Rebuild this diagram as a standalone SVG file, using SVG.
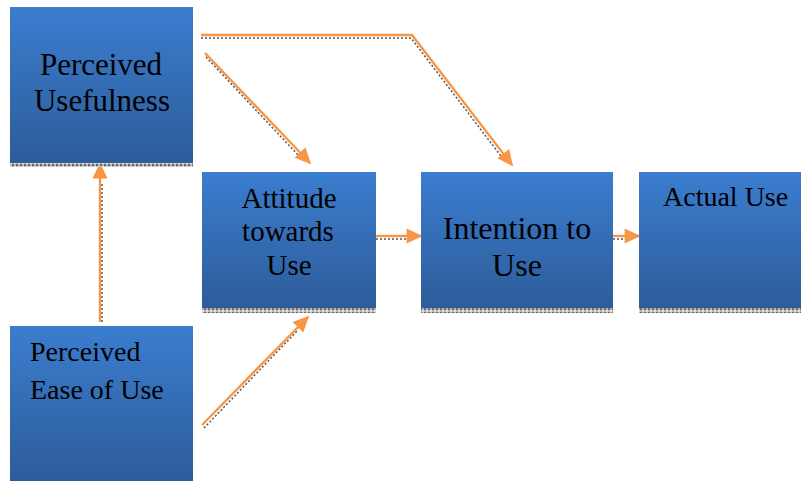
<svg xmlns="http://www.w3.org/2000/svg" width="801" height="481" viewBox="0 0 801 481">
<defs>
<linearGradient id="g" x1="0" y1="0" x2="0" y2="1">
<stop offset="0" stop-color="#3b7dcf"/>
<stop offset="1" stop-color="#2d5c99"/>
</linearGradient>
<pattern id="sh" width="4" height="4" patternUnits="userSpaceOnUse">
<rect width="4" height="4" fill="#b8b8b8"/>
<rect width="2" height="2" fill="#6a6a6a"/>
<rect x="2" y="2" width="2" height="2" fill="#e0e0e0"/>
</pattern>
<marker id="ah" viewBox="0 0 10 10" refX="9" refY="5" markerWidth="16" markerHeight="15" markerUnits="userSpaceOnUse" orient="auto" overflow="visible" preserveAspectRatio="none">
<path d="M0,0 L10,5 L0,10 Z" fill="#f79646"/>
</marker>
<style>
.box{fill:url(#g);}
.shadow{fill:url(#sh);}
text{fill:#000;font-family:'Liberation Serif','Times New Roman',serif;}
.c{fill:none;stroke:#f79646;stroke-width:2.4;}
.s{fill:none;stroke:#555;stroke-width:1.5;stroke-dasharray:2 2;}
</style>
</defs>
<g id="connectors">
<path class="s" d="M102,322 L102,183"/>
<path class="c" d="M100,322 L100,164" marker-end="url(#ah)"/>
<path class="s" d="M206,57 L300,157"/>
<path class="c" d="M205,53 L310,163" marker-end="url(#ah)"/>
<path class="s" d="M201,38 L411,38 L504,160"/>
<path class="c" d="M201,35 L412,35 L512,165" marker-end="url(#ah)"/>
<path class="s" d="M376,239 L410,239"/>
<path class="c" d="M376,236 L421,236" marker-end="url(#ah)"/>
<path class="s" d="M613,239 L628,239"/>
<path class="c" d="M613,236 L639,236" marker-end="url(#ah)"/>
<path class="s" d="M204,428 L298,330"/>
<path class="c" d="M202,425 L308,317" marker-end="url(#ah)"/>
</g>
<g id="perceived-usefulness">
<rect class="shadow" x="10" y="162" width="183" height="5"/>
<rect class="box" x="10" y="7" width="183" height="156"/>
<text x="101" y="75" font-size="31" text-anchor="middle">Perceived</text>
<text x="102" y="111" font-size="31" text-anchor="middle">Usefulness</text>
</g>
<g id="attitude">
<rect class="shadow" x="202" y="307" width="174" height="6"/>
<rect class="box" x="202" y="172" width="174" height="136"/>
<text x="289" y="208" font-size="29" text-anchor="middle">Attitude</text>
<text x="288" y="241" font-size="29" text-anchor="middle">towards</text>
<text x="289" y="275" font-size="29" text-anchor="middle">Use</text>
</g>
<g id="intention">
<rect class="shadow" x="421" y="307" width="192" height="6"/>
<rect class="box" x="421" y="172" width="192" height="136"/>
<text x="517" y="239" font-size="32" text-anchor="middle">Intention to</text>
<text x="517" y="276" font-size="32" text-anchor="middle">Use</text>
</g>
<g id="actual-use">
<rect class="shadow" x="639" y="307" width="162" height="6"/>
<rect class="box" x="639" y="172" width="162" height="136"/>
<text x="663" y="206" font-size="28">Actual Use</text>
</g>
<g id="perceived-ease">
<rect class="box" x="10" y="326" width="183" height="155"/>
<text x="30" y="361" font-size="28">Perceived</text>
<text x="30" y="399" font-size="28">Ease of Use</text>
</g>
</svg>
